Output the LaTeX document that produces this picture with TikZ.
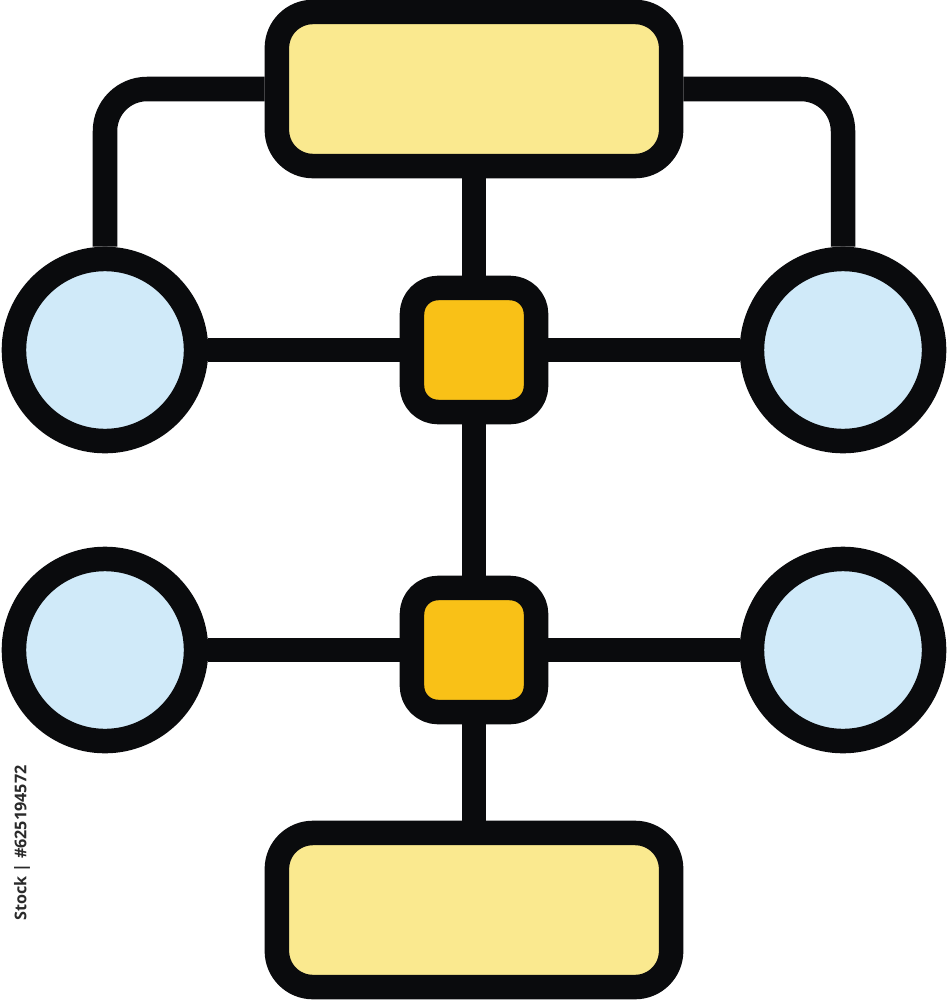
\documentclass[tikz,border=0pt]{standalone}
\usepackage{fontspec}
\setsansfont{Open Sans}
\definecolor{iconline}{HTML}{0A0B0D}
\definecolor{boxyellow}{HTML}{FAE98F}
\definecolor{junctionorange}{HTML}{F9C117}
\definecolor{leafblue}{HTML}{D0EAF9}
\definecolor{stockgray}{HTML}{2A2A2A}
\begin{document}
\begin{tikzpicture}[x=0.01cm, y=-0.01cm, line cap=butt, line join=round,
	flowbox/.style={draw=iconline, fill=boxyellow, line width=0.245cm, rounded corners=0.36cm, minimum width=3.94cm, minimum height=1.54cm, inner sep=0},
	junction/.style={draw=iconline, fill=junctionorange, line width=0.245cm, rounded corners=0.26cm, minimum size=1.24cm, inner sep=0},
	leaf/.style={circle, draw=iconline, fill=leafblue, line width=0.245cm, minimum size=1.82cm, inner sep=0},
	link/.style={draw=iconline, line width=0.245cm}]
	\useasboundingbox (0,0) rectangle (949,1000);

	%Boxes
	\node[flowbox] (top) at (474,89) {};
	\node[flowbox] (bot) at (474,910) {};

	%Junctions
	\node[junction] (sq1) at (474,350) {};
	\node[junction] (sq2) at (474,650) {};

	%Leaves
	\node[leaf] (c1l) at (105,350) {};
	\node[leaf] (c1r) at (843,350) {};
	\node[leaf] (c2l) at (105,650) {};
	\node[leaf] (c2r) at (843,650) {};

	%Links
	\path[link] (top) -- (sq1) -- (sq2) -- (bot);
	\path[link] (c1l) -- (sq1) -- (c1r);
	\path[link] (c2l) -- (sq2) -- (c2r);
	\path[link, rounded corners=0.42cm] (top.west) -| (c1l.north);
	\path[link, rounded corners=0.42cm] (top.east) -| (c1r.north);

	\node[rotate=90, text=stockgray, font=\sffamily\bfseries\fontsize{4.6}{6}\selectfont] (stockid) at (22,843) {Stock | \#625194572};
\end{tikzpicture}
\end{document}
